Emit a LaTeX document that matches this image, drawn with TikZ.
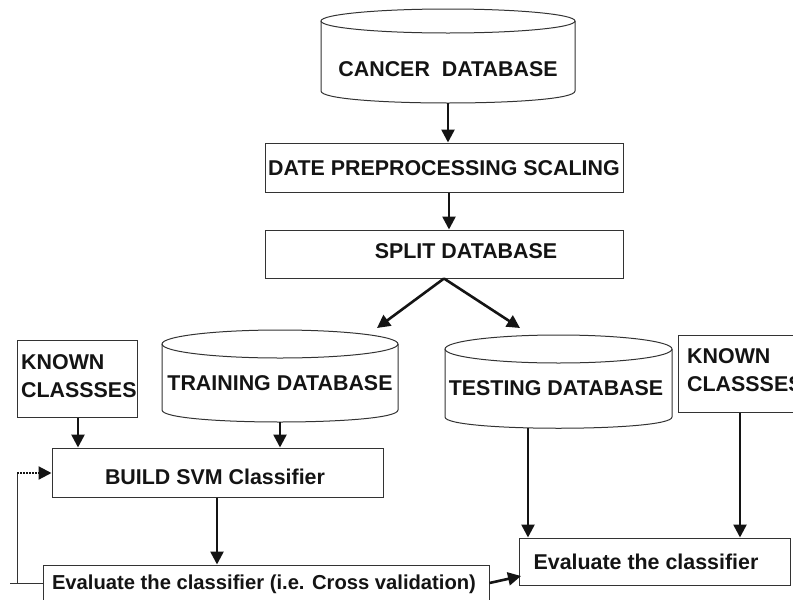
\documentclass[tikz,border=0pt]{standalone}
\usepackage{fontspec}
\setmainfont{Liberation Sans}
\usetikzlibrary{arrows.meta}
\begin{document}
\begin{tikzpicture}[x=1pt,y=-1pt,
  lbl/.style={font=\bfseries\fontsize{21.4}{28}\selectfont, text=black!92, inner sep=0pt},
  boxshape/.style={draw=black!80, line width=1pt, inner sep=0pt, fill=white},
  cylline/.style={draw=black!80, line width=1pt},
  arr/.style={draw=black!92, line width=2.6pt, -{Triangle[length=13pt,width=13pt]}},
  dotarr/.style={draw=black!92, line width=2.2pt, dash pattern=on 1.6pt off 1.4pt, -{Triangle[length=13pt,width=13pt]}},
  fb/.style={draw=black!80, line width=1pt}]
\path[use as bounding box] (0,0) rectangle (793,600);
\clip (0,0) rectangle (793,600);

% Cancer database cylinder
\draw[cylline] (321,21) -- (321,91) .. controls (321,107) and (575,107) .. (575,91) -- (575,21);
\draw[cylline] (448,21) ellipse[x radius=127,y radius=12];
\node[lbl] (cancer) at (448,69) {CANCER\ \ DATABASE};
\coordinate (cancerbot) at (448,103);

% Preprocessing
\node[boxshape, minimum width=358pt, minimum height=49pt] (prep) at (444,167.5) {};
\node[lbl] (preptxt) at (444,168) {DATE PREPROCESSING SCALING};

% Split
\node[boxshape, minimum width=358pt, minimum height=48pt] (split) at (444,254) {};
\node[lbl] (splittxt) at (466,251) {SPLIT DATABASE};

% Training database cylinder
\draw[cylline] (162,344) -- (162,410) .. controls (162,426) and (398,426) .. (398,410) -- (398,344);
\draw[cylline] (280,344) ellipse[x radius=118,y radius=14];
\node[lbl] (train) at (280,383) {TRAINING DATABASE};
\coordinate (traintop) at (377,328);
\coordinate (trainbot) at (280,422);

% Testing database cylinder
\draw[cylline] (445,349) -- (445,417) .. controls (445,432) and (672,432) .. (672,417) -- (672,349);
\draw[cylline] (558.5,349) ellipse[x radius=113.5,y radius=14];
\node[lbl] (test) at (556,388) {TESTING DATABASE};
\coordinate (testtop) at (520,328);
\coordinate (testbot) at (528,428);

% Known classes (left)
\node[boxshape, minimum width=120pt, minimum height=77pt] (known1) at (77,378.5) {};
\node[lbl, anchor=west, align=left] (known1txt) at (21,376) {KNOWN\\CLASSSES};

% Known classes (right)
\node[boxshape, minimum width=120pt, minimum height=77pt] (known2) at (738,373.5) {};
\node[lbl, anchor=west, align=left] (known2txt) at (687,370) {KNOWN\\CLASSSES};

% Build SVM
\node[boxshape, minimum width=331pt, minimum height=49pt] (build) at (217.5,472.5) {};
\node[lbl] (buildtxt) at (215,477) {BUILD SVM Classifier};

% Cross validation
\node[boxshape, minimum width=446pt, minimum height=52pt] (cv) at (266,591) {};
\node[lbl, font=\bfseries\fontsize{20.2}{24}\selectfont] (cvtxt) at (264,584) {Evaluate the classifier (i.e. Cross validation)};

% Evaluate
\node[boxshape, minimum width=271pt, minimum height=47pt] (eval) at (654.5,561.5) {};
\node[lbl] (evaltxt) at (646,562) {Evaluate the classifier};

% Arrows
\draw[arr] (cancerbot) -- (prep.north -| cancerbot);
\draw[arr] (prep.south -| 449,0) -- (split.north -| 449,0);
\draw[arr] (split.south) -- (traintop);
\draw[arr] (split.south) -- (testtop);
\draw[arr] (known1.south -| 78,0) -- (build.north -| 78,0);
\draw[arr] (trainbot) -- (build.north -| trainbot);
\draw[arr] (build.south -| 217,0) -- (cv.north -| 217,0);
\draw[arr] (testbot) -- (eval.north -| testbot);
\draw[arr] (known2.south -| 740,0) -- (eval.north -| 740,0);
\draw[arr] (cv.east |- 0,583) -- (521,576);

% Feedback loop
\coordinate (fbcorner) at (17,583);
\coordinate (fbtop) at (17,473);
\draw[fb] (cv.west |- fbcorner) -- (10,583);
\draw[fb] (fbcorner) -- (fbtop);
\draw[dotarr] (fbtop) -- (build.west |- fbtop);
\end{tikzpicture}
\end{document}
